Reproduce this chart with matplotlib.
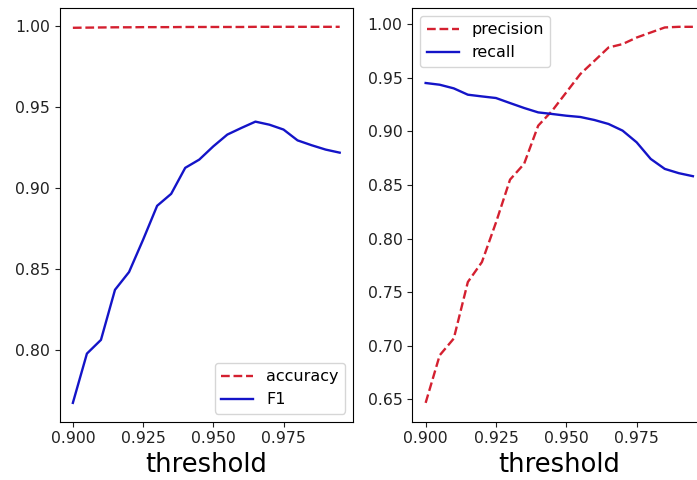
import numpy as np
import matplotlib
matplotlib.use("Agg")
import matplotlib.pyplot as plt

# thresholds 0.900 .. 0.995
threshold = [0.900, 0.905, 0.910, 0.915, 0.920, 0.925, 0.930, 0.935, 0.940, 0.945,
             0.950, 0.955, 0.960, 0.965, 0.970, 0.975, 0.980, 0.985, 0.990, 0.995]

accuracy = [0.9992, 0.9993, 0.9994, 0.9995, 0.9995, 0.9996, 0.9996, 0.9996, 0.9997, 0.9997,
            0.9997, 0.9997, 0.9997, 0.9998, 0.9998, 0.9998, 0.9998, 0.9998, 0.9998, 0.9998]
f1 = [0.767, 0.7975, 0.806, 0.837, 0.848, 0.868, 0.889, 0.8964, 0.9125, 0.9176,
      0.9258, 0.9331, 0.9372, 0.9411, 0.9392, 0.9362, 0.9295, 0.9265, 0.9238, 0.9219]

precision = [0.6468, 0.6912, 0.7068, 0.7595, 0.7781, 0.815, 0.855, 0.8697, 0.9053, 0.9193,
             0.9364, 0.9535, 0.9658, 0.9782, 0.9814, 0.9875, 0.9922, 0.9969, 0.9975, 0.9975]
recall = [0.9451, 0.9435, 0.9401, 0.9342, 0.9326, 0.9311, 0.9264, 0.9218, 0.9177, 0.9162,
          0.9146, 0.9134, 0.9106, 0.9069, 0.9007, 0.8898, 0.8743, 0.8650, 0.8610, 0.8582]

red = '#d42030'
blue = '#1414c8'
tick_fs = 11.3
fig = plt.figure(figsize=(6.97, 4.80), dpi=100)

# left panel
ax1 = fig.add_axes([0.0854, 0.1215, 0.4211, 0.8618])
ax1.plot(threshold, accuracy, '--', color=red, lw=1.7, label='accuracy')
ax1.plot(threshold, f1, '-', color=blue, lw=1.7, label='F1')
ax1.set_xticks([0.900, 0.925, 0.950, 0.975])
ax1.set_yticks([0.80, 0.85, 0.90, 0.95, 1.00])
ax1.tick_params(labelsize=tick_fs, colors='#222222')
ax1.set_xlabel('threshold', fontsize=18.5)
ax1.legend(loc='lower right', fontsize=11.5)

# right panel (runs off the right edge like the reference)
ax2 = fig.add_axes([0.5915, 0.1215, 0.4218, 0.8618])
ax2.plot(threshold, precision, '--', color=red, lw=1.7, label='precision')
ax2.plot(threshold, recall, '-', color=blue, lw=1.7, label='recall')
ax2.set_xticks([0.900, 0.925, 0.950, 0.975])
ax2.set_yticks([0.65, 0.70, 0.75, 0.80, 0.85, 0.90, 0.95, 1.00])
ax2.tick_params(labelsize=tick_fs, colors='#222222')
ax2.set_xlabel('threshold', fontsize=18.5)
ax2.legend(loc='upper left', fontsize=11.5)

fig.savefig('out.png', dpi=100)
